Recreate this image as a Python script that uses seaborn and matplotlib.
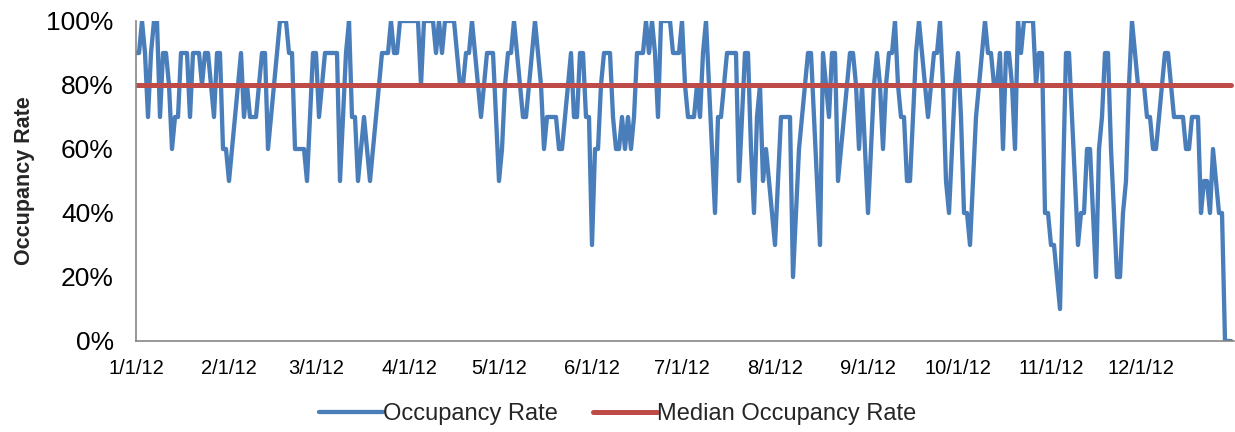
import numpy as np
import pandas as pd
import matplotlib
matplotlib.use("Agg")
import matplotlib.pyplot as plt
import matplotlib.ticker as mticker
import seaborn as sns

# daily occupancy rate (%), one list per month of 2012
jan = [90, 90, 100, 90, 70, 90, 100, 100, 70, 90, 90, 80, 60, 70, 70, 90, 90, 90, 70, 90,
       90, 90, 80, 90, 90, 80, 70, 90, 90, 60, 60]
feb = [50, 60, 70, 80, 90, 70, 80, 70, 70, 70, 80, 90, 90, 60, 70, 80, 90, 100, 100, 100,
       90, 90, 60, 60, 60, 60, 50, 70, 90]
mar = [90, 70, 80, 90, 90, 90, 90, 90, 50, 70, 90, 100, 70, 70, 50, 60, 70, 60, 50, 60,
       70, 80, 90, 90, 90, 100, 90, 90, 100, 100, 100]
apr = [100, 100, 100, 100, 80, 100, 100, 100, 100, 90, 100, 90, 100, 100, 100, 100, 90, 80, 80, 90,
       90, 100, 90, 80, 70, 80, 90, 90, 90, 70]
may = [50, 60, 80, 90, 90, 100, 90, 80, 70, 70, 80, 90, 100, 90, 80, 60, 70, 70, 70, 70,
       60, 60, 70, 80, 90, 70, 70, 90, 90, 70, 70]
jun = [30, 60, 60, 80, 90, 90, 90, 70, 60, 60, 70, 60, 70, 60, 70, 90, 90, 90, 100, 90,
       100, 90, 70, 100, 100, 100, 100, 90, 90, 90]
jul = [100, 80, 70, 70, 70, 80, 70, 90, 100, 80, 60, 40, 70, 70, 80, 90, 90, 90, 90, 50,
       70, 90, 90, 60, 40, 70, 80, 50, 60, 50, 40]
aug = [30, 50, 70, 70, 70, 70, 20, 40, 60, 70, 80, 90, 90, 70, 50, 30, 90, 80, 70, 90,
       90, 50, 60, 70, 80, 90, 90, 80, 60, 80, 60]
sep = [40, 60, 80, 90, 80, 60, 80, 90, 90, 100, 80, 70, 70, 50, 50, 70, 90, 100, 90, 80,
       70, 80, 90, 90, 100, 80, 50, 40, 60, 80]
oct_ = [90, 70, 40, 40, 30, 50, 70, 80, 90, 100, 90, 90, 80, 80, 90, 60, 90, 90, 80, 60,
        100, 90, 100, 100, 100, 100, 80, 90, 90, 40, 40]
nov = [30, 30, 20, 10, 50, 90, 90, 70, 50, 30, 40, 40, 60, 60, 40, 20, 60, 70, 90, 90,
       60, 40, 20, 20, 40, 50, 80, 100, 90, 80]
dec = [80, 80, 70, 70, 60, 60, 70, 80, 90, 90, 80, 70, 70, 70, 70, 60, 60, 70, 70, 70,
       40, 50, 50, 40, 60, 50, 40, 40, 0, 0, 0]

median_rate = 80

occupancy = jan + feb + mar + apr + may + jun + jul + aug + sep + oct_ + nov + dec
dates = pd.date_range("2012-01-01", periods=len(occupancy), freq="D")
df = pd.DataFrame({"date": dates, "rate": np.array(occupancy) / 100.0,
                   "median": median_rate / 100.0})

sns.set_style("white")
plt.rcParams["font.family"] = ["Liberation Sans", "DejaVu Sans"]

fig = plt.figure(figsize=(12.35, 4.32), dpi=100)
ax = fig.add_axes([136 / 1235, 1 - 341 / 432, (1234 - 136) / 1235, 320 / 432])

sns.lineplot(data=df, x="date", y="rate", ax=ax, color="#4A7EBB", linewidth=3.1,
             label="Occupancy Rate")
sns.lineplot(data=df, x="date", y="median", ax=ax, color="#BE4B48", linewidth=3.6,
             label="Median Occupancy Rate")

ax.set_xlim(pd.Timestamp("2012-01-01"), pd.Timestamp("2013-01-01"))
ax.set_ylim(0, 1)
ax.set_yticks(np.arange(0, 1.01, 0.2))
ax.yaxis.set_major_formatter(mticker.PercentFormatter(1.0, decimals=0))
month_starts = pd.date_range("2012-01-01", periods=12, freq="MS")
ax.set_xticks(month_starts)
ax.set_xticklabels([f"{d.month}/{d.day}/{d.year % 100}" for d in month_starts])

ax.tick_params(axis="both", colors="#868686", labelcolor="black",
               direction="out", length=5, width=1.2)
ax.tick_params(axis="x", labelsize=14.5, pad=8)
ax.tick_params(axis="y", labelsize=19, pad=11)
for side in ["top", "right"]:
    ax.spines[side].set_visible(False)
for side in ["left", "bottom"]:
    ax.spines[side].set_color("#868686")
    ax.spines[side].set_linewidth(1.2)

ax.set_xlabel("")
ax.set_ylabel("Occupancy Rate", fontsize=15.5, fontweight="bold")
ax.yaxis.set_label_coords(-0.092, 0.5)

ax.legend_.remove()
handles, labels = ax.get_legend_handles_labels()
fig.legend(handles, labels, loc="center", bbox_to_anchor=(0.5, 1 - 414 / 432), ncol=2,
           frameon=False, fontsize=17, handlelength=2.7, handletextpad=0.0,
           columnspacing=1.5)

fig.savefig("out.png", dpi=100)
